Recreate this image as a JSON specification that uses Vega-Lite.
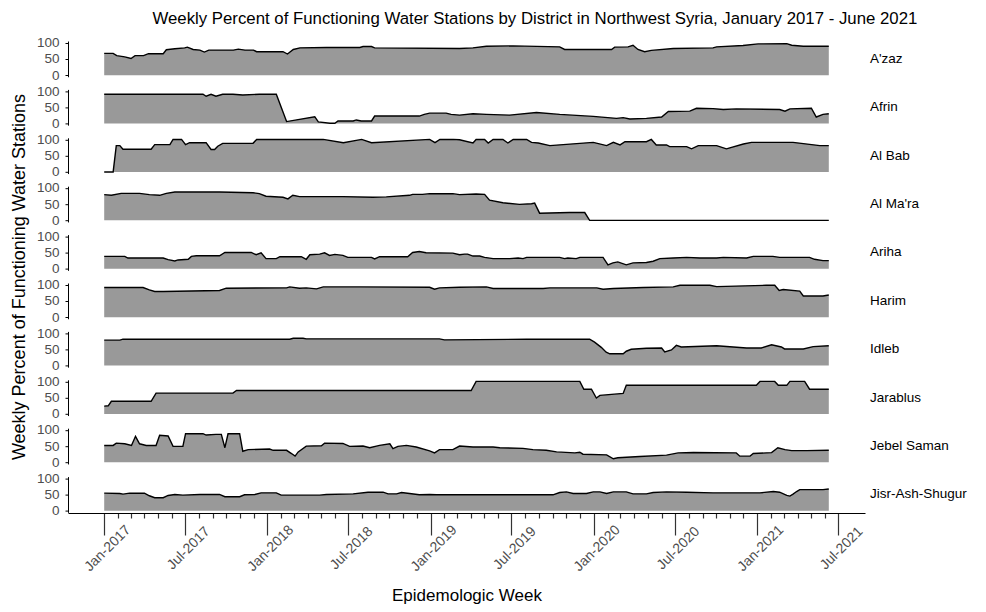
{
"$schema": "https://vega.github.io/schema/vega-lite/v6.json",
"background": "white",
"padding": {"left": 10, "top": 10, "right": 5, "bottom": 5},
"title": {"text": "Weekly Percent of Functioning Water Stations by District in Northwest Syria, January 2017 - June 2021", "fontSize": 16.8, "fontWeight": "normal", "font": "Liberation Sans", "color": "black", "anchor": "middle", "offset": 8, "dx": 46},
"datasets": {"d": [
{"district":"A'zaz","week":"2017-01-01","pct":67},{"district":"A'zaz","week":"2017-01-21","pct":67},{"district":"A'zaz","week":"2017-01-29","pct":60},{"district":"A'zaz","week":"2017-02-16","pct":56},{"district":"A'zaz","week":"2017-03-02","pct":51},{"district":"A'zaz","week":"2017-03-11","pct":60},{"district":"A'zaz","week":"2017-03-30","pct":60},{"district":"A'zaz","week":"2017-04-10","pct":66},{"district":"A'zaz","week":"2017-05-13","pct":66},{"district":"A'zaz","week":"2017-05-20","pct":78},{"district":"A'zaz","week":"2017-06-08","pct":81},{"district":"A'zaz","week":"2017-06-30","pct":84},{"district":"A'zaz","week":"2017-07-06","pct":86},{"district":"A'zaz","week":"2017-07-19","pct":79},{"district":"A'zaz","week":"2017-08-03","pct":77},{"district":"A'zaz","week":"2017-08-13","pct":71},{"district":"A'zaz","week":"2017-08-23","pct":77},{"district":"A'zaz","week":"2017-10-17","pct":77},{"district":"A'zaz","week":"2017-10-28","pct":80},{"district":"A'zaz","week":"2017-11-12","pct":77},{"district":"A'zaz","week":"2017-12-01","pct":77},{"district":"A'zaz","week":"2017-12-08","pct":72},{"district":"A'zaz","week":"2018-02-05","pct":72},{"district":"A'zaz","week":"2018-02-15","pct":65},{"district":"A'zaz","week":"2018-02-28","pct":79},{"district":"A'zaz","week":"2018-03-15","pct":84},{"district":"A'zaz","week":"2018-05-13","pct":85},{"district":"A'zaz","week":"2018-07-27","pct":85},{"district":"A'zaz","week":"2018-08-03","pct":88},{"district":"A'zaz","week":"2018-08-22","pct":88},{"district":"A'zaz","week":"2018-08-29","pct":84},{"district":"A'zaz","week":"2019-03-07","pct":82},{"district":"A'zaz","week":"2019-04-06","pct":84},{"district":"A'zaz","week":"2019-05-06","pct":89},{"district":"A'zaz","week":"2019-07-05","pct":90},{"district":"A'zaz","week":"2019-10-17","pct":87},{"district":"A'zaz","week":"2019-10-28","pct":79},{"district":"A'zaz","week":"2020-02-10","pct":79},{"district":"A'zaz","week":"2020-02-17","pct":86},{"district":"A'zaz","week":"2020-03-18","pct":87},{"district":"A'zaz","week":"2020-03-29","pct":92},{"district":"A'zaz","week":"2020-04-09","pct":79},{"district":"A'zaz","week":"2020-04-24","pct":72},{"district":"A'zaz","week":"2020-05-09","pct":76},{"district":"A'zaz","week":"2020-06-27","pct":82},{"district":"A'zaz","week":"2020-09-24","pct":84},{"district":"A'zaz","week":"2020-10-02","pct":87},{"district":"A'zaz","week":"2020-11-30","pct":91},{"district":"A'zaz","week":"2021-01-03","pct":96},{"district":"A'zaz","week":"2021-03-08","pct":97},{"district":"A'zaz","week":"2021-03-19","pct":92},{"district":"A'zaz","week":"2021-04-14","pct":89},{"district":"A'zaz","week":"2021-06-10","pct":89},
{"district":"Afrin","week":"2017-01-01","pct":90},{"district":"Afrin","week":"2017-08-10","pct":90},{"district":"Afrin","week":"2017-08-17","pct":84},{"district":"Afrin","week":"2017-08-28","pct":90},{"district":"Afrin","week":"2017-09-08","pct":84},{"district":"Afrin","week":"2017-09-23","pct":90},{"district":"Afrin","week":"2017-10-16","pct":90},{"district":"Afrin","week":"2017-11-07","pct":88},{"district":"Afrin","week":"2017-12-14","pct":90},{"district":"Afrin","week":"2018-01-21","pct":90},{"district":"Afrin","week":"2018-02-13","pct":6},{"district":"Afrin","week":"2018-04-17","pct":21},{"district":"Afrin","week":"2018-04-25","pct":5},{"district":"Afrin","week":"2018-05-21","pct":1},{"district":"Afrin","week":"2018-06-01","pct":1},{"district":"Afrin","week":"2018-06-08","pct":8},{"district":"Afrin","week":"2018-07-12","pct":8},{"district":"Afrin","week":"2018-07-19","pct":11},{"district":"Afrin","week":"2018-07-30","pct":8},{"district":"Afrin","week":"2018-08-22","pct":8},{"district":"Afrin","week":"2018-08-29","pct":23},{"district":"Afrin","week":"2018-12-07","pct":23},{"district":"Afrin","week":"2018-12-18","pct":28},{"district":"Afrin","week":"2018-12-30","pct":32},{"district":"Afrin","week":"2019-02-05","pct":32},{"district":"Afrin","week":"2019-02-16","pct":28},{"district":"Afrin","week":"2019-03-07","pct":26},{"district":"Afrin","week":"2019-04-06","pct":30},{"district":"Afrin","week":"2019-05-06","pct":28},{"district":"Afrin","week":"2019-06-27","pct":26},{"district":"Afrin","week":"2019-08-26","pct":34},{"district":"Afrin","week":"2019-10-17","pct":28},{"district":"Afrin","week":"2019-12-31","pct":22},{"district":"Afrin","week":"2020-02-21","pct":16},{"district":"Afrin","week":"2020-03-07","pct":18},{"district":"Afrin","week":"2020-03-22","pct":14},{"district":"Afrin","week":"2020-04-28","pct":16},{"district":"Afrin","week":"2020-06-01","pct":20},{"district":"Afrin","week":"2020-06-16","pct":37},{"district":"Afrin","week":"2020-08-03","pct":38},{"district":"Afrin","week":"2020-08-18","pct":47},{"district":"Afrin","week":"2020-09-24","pct":46},{"district":"Afrin","week":"2020-10-17","pct":43},{"district":"Afrin","week":"2020-11-15","pct":45},{"district":"Afrin","week":"2021-02-20","pct":43},{"district":"Afrin","week":"2021-03-04","pct":38},{"district":"Afrin","week":"2021-03-15","pct":45},{"district":"Afrin","week":"2021-05-02","pct":47},{"district":"Afrin","week":"2021-05-13","pct":20},{"district":"Afrin","week":"2021-05-28","pct":28},{"district":"Afrin","week":"2021-06-10","pct":30},
{"district":"Al Bab","week":"2017-01-01","pct":0},{"district":"Al Bab","week":"2017-01-21","pct":0},{"district":"Al Bab","week":"2017-01-28","pct":81},{"district":"Al Bab","week":"2017-02-05","pct":81},{"district":"Al Bab","week":"2017-02-12","pct":70},{"district":"Al Bab","week":"2017-04-16","pct":70},{"district":"Al Bab","week":"2017-04-24","pct":84},{"district":"Al Bab","week":"2017-05-28","pct":84},{"district":"Al Bab","week":"2017-06-04","pct":100},{"district":"Al Bab","week":"2017-06-23","pct":100},{"district":"Al Bab","week":"2017-07-02","pct":84},{"district":"Al Bab","week":"2017-07-11","pct":90},{"district":"Al Bab","week":"2017-08-17","pct":90},{"district":"Al Bab","week":"2017-08-28","pct":69},{"district":"Al Bab","week":"2017-09-05","pct":69},{"district":"Al Bab","week":"2017-09-12","pct":79},{"district":"Al Bab","week":"2017-09-23","pct":88},{"district":"Al Bab","week":"2017-11-30","pct":88},{"district":"Al Bab","week":"2017-12-08","pct":100},{"district":"Al Bab","week":"2018-05-06","pct":100},{"district":"Al Bab","week":"2018-06-20","pct":90},{"district":"Al Bab","week":"2018-07-31","pct":100},{"district":"Al Bab","week":"2018-08-22","pct":90},{"district":"Al Bab","week":"2018-12-30","pct":100},{"district":"Al Bab","week":"2019-01-11","pct":90},{"district":"Al Bab","week":"2019-01-22","pct":100},{"district":"Al Bab","week":"2019-02-21","pct":100},{"district":"Al Bab","week":"2019-03-07","pct":99},{"district":"Al Bab","week":"2019-04-06","pct":89},{"district":"Al Bab","week":"2019-04-13","pct":100},{"district":"Al Bab","week":"2019-05-02","pct":100},{"district":"Al Bab","week":"2019-05-10","pct":89},{"district":"Al Bab","week":"2019-05-21","pct":100},{"district":"Al Bab","week":"2019-06-12","pct":100},{"district":"Al Bab","week":"2019-06-23","pct":89},{"district":"Al Bab","week":"2019-07-05","pct":100},{"district":"Al Bab","week":"2019-08-04","pct":100},{"district":"Al Bab","week":"2019-08-15","pct":91},{"district":"Al Bab","week":"2019-08-30","pct":89},{"district":"Al Bab","week":"2019-09-25","pct":81},{"district":"Al Bab","week":"2019-12-31","pct":91},{"district":"Al Bab","week":"2020-01-30","pct":81},{"district":"Al Bab","week":"2020-02-14","pct":91},{"district":"Al Bab","week":"2020-02-29","pct":83},{"district":"Al Bab","week":"2020-03-11","pct":93},{"district":"Al Bab","week":"2020-04-28","pct":93},{"district":"Al Bab","week":"2020-05-09","pct":100},{"district":"Al Bab","week":"2020-05-20","pct":83},{"district":"Al Bab","week":"2020-06-12","pct":83},{"district":"Al Bab","week":"2020-06-19","pct":78},{"district":"Al Bab","week":"2020-07-27","pct":78},{"district":"Al Bab","week":"2020-08-07","pct":71},{"district":"Al Bab","week":"2020-08-22","pct":81},{"district":"Al Bab","week":"2020-10-02","pct":81},{"district":"Al Bab","week":"2020-10-24","pct":71},{"district":"Al Bab","week":"2020-12-01","pct":86},{"district":"Al Bab","week":"2020-12-19","pct":91},{"district":"Al Bab","week":"2021-03-22","pct":91},{"district":"Al Bab","week":"2021-05-21","pct":81},{"district":"Al Bab","week":"2021-06-10","pct":81},
{"district":"Al Ma'ra","week":"2017-01-01","pct":79},{"district":"Al Ma'ra","week":"2017-01-17","pct":77},{"district":"Al Ma'ra","week":"2017-02-08","pct":83},{"district":"Al Ma'ra","week":"2017-03-21","pct":83},{"district":"Al Ma'ra","week":"2017-04-12","pct":79},{"district":"Al Ma'ra","week":"2017-05-05","pct":77},{"district":"Al Ma'ra","week":"2017-05-20","pct":83},{"district":"Al Ma'ra","week":"2017-06-08","pct":87},{"district":"Al Ma'ra","week":"2017-09-16","pct":87},{"district":"Al Ma'ra","week":"2017-11-30","pct":85},{"district":"Al Ma'ra","week":"2017-12-14","pct":82},{"district":"Al Ma'ra","week":"2017-12-29","pct":74},{"district":"Al Ma'ra","week":"2018-02-05","pct":71},{"district":"Al Ma'ra","week":"2018-02-16","pct":66},{"district":"Al Ma'ra","week":"2018-02-27","pct":77},{"district":"Al Ma'ra","week":"2018-03-14","pct":73},{"district":"Al Ma'ra","week":"2018-06-19","pct":73},{"district":"Al Ma'ra","week":"2018-08-25","pct":71},{"district":"Al Ma'ra","week":"2018-09-24","pct":72},{"district":"Al Ma'ra","week":"2018-11-15","pct":77},{"district":"Al Ma'ra","week":"2018-11-22","pct":80},{"district":"Al Ma'ra","week":"2018-12-14","pct":80},{"district":"Al Ma'ra","week":"2018-12-30","pct":82},{"district":"Al Ma'ra","week":"2019-02-20","pct":82},{"district":"Al Ma'ra","week":"2019-03-07","pct":79},{"district":"Al Ma'ra","week":"2019-04-13","pct":81},{"district":"Al Ma'ra","week":"2019-05-02","pct":80},{"district":"Al Ma'ra","week":"2019-05-13","pct":62},{"district":"Al Ma'ra","week":"2019-06-12","pct":54},{"district":"Al Ma'ra","week":"2019-07-19","pct":49},{"district":"Al Ma'ra","week":"2019-08-15","pct":51},{"district":"Al Ma'ra","week":"2019-08-22","pct":53},{"district":"Al Ma'ra","week":"2019-09-02","pct":22},{"district":"Al Ma'ra","week":"2019-11-08","pct":24},{"district":"Al Ma'ra","week":"2019-12-12","pct":24},{"district":"Al Ma'ra","week":"2019-12-23","pct":0},{"district":"Al Ma'ra","week":"2021-06-10","pct":0},
{"district":"Ariha","week":"2017-01-01","pct":38},{"district":"Ariha","week":"2017-02-16","pct":38},{"district":"Ariha","week":"2017-02-23","pct":33},{"district":"Ariha","week":"2017-05-13","pct":33},{"district":"Ariha","week":"2017-05-24","pct":28},{"district":"Ariha","week":"2017-06-08","pct":24},{"district":"Ariha","week":"2017-06-15","pct":27},{"district":"Ariha","week":"2017-07-08","pct":29},{"district":"Ariha","week":"2017-07-15","pct":38},{"district":"Ariha","week":"2017-07-26","pct":40},{"district":"Ariha","week":"2017-09-16","pct":40},{"district":"Ariha","week":"2017-09-28","pct":50},{"district":"Ariha","week":"2017-11-26","pct":50},{"district":"Ariha","week":"2017-12-07","pct":43},{"district":"Ariha","week":"2017-12-18","pct":49},{"district":"Ariha","week":"2017-12-29","pct":31},{"district":"Ariha","week":"2018-01-21","pct":31},{"district":"Ariha","week":"2018-01-29","pct":37},{"district":"Ariha","week":"2018-03-18","pct":37},{"district":"Ariha","week":"2018-03-29","pct":29},{"district":"Ariha","week":"2018-04-06","pct":43},{"district":"Ariha","week":"2018-04-28","pct":45},{"district":"Ariha","week":"2018-05-09","pct":49},{"district":"Ariha","week":"2018-05-20","pct":41},{"district":"Ariha","week":"2018-06-01","pct":44},{"district":"Ariha","week":"2018-06-19","pct":41},{"district":"Ariha","week":"2018-06-30","pct":35},{"district":"Ariha","week":"2018-08-22","pct":35},{"district":"Ariha","week":"2018-08-29","pct":30},{"district":"Ariha","week":"2018-09-09","pct":37},{"district":"Ariha","week":"2018-11-11","pct":37},{"district":"Ariha","week":"2018-11-22","pct":50},{"district":"Ariha","week":"2018-12-07","pct":53},{"district":"Ariha","week":"2018-12-22","pct":49},{"district":"Ariha","week":"2019-02-20","pct":48},{"district":"Ariha","week":"2019-03-07","pct":43},{"district":"Ariha","week":"2019-03-18","pct":45},{"district":"Ariha","week":"2019-03-25","pct":45},{"district":"Ariha","week":"2019-04-06","pct":39},{"district":"Ariha","week":"2019-04-21","pct":39},{"district":"Ariha","week":"2019-05-02","pct":35},{"district":"Ariha","week":"2019-05-21","pct":31},{"district":"Ariha","week":"2019-06-27","pct":31},{"district":"Ariha","week":"2019-07-16","pct":33},{"district":"Ariha","week":"2019-07-27","pct":31},{"district":"Ariha","week":"2019-08-04","pct":35},{"district":"Ariha","week":"2019-10-17","pct":35},{"district":"Ariha","week":"2019-10-28","pct":31},{"district":"Ariha","week":"2019-11-04","pct":33},{"district":"Ariha","week":"2019-11-23","pct":31},{"district":"Ariha","week":"2019-12-01","pct":35},{"district":"Ariha","week":"2020-01-22","pct":35},{"district":"Ariha","week":"2020-02-02","pct":12},{"district":"Ariha","week":"2020-02-13","pct":18},{"district":"Ariha","week":"2020-02-24","pct":21},{"district":"Ariha","week":"2020-03-14","pct":12},{"district":"Ariha","week":"2020-03-29","pct":18},{"district":"Ariha","week":"2020-04-28","pct":19},{"district":"Ariha","week":"2020-05-13","pct":23},{"district":"Ariha","week":"2020-05-28","pct":31},{"district":"Ariha","week":"2020-06-27","pct":33},{"district":"Ariha","week":"2020-07-27","pct":35},{"district":"Ariha","week":"2020-08-26","pct":33},{"district":"Ariha","week":"2020-10-02","pct":33},{"district":"Ariha","week":"2020-10-17","pct":35},{"district":"Ariha","week":"2020-12-08","pct":33},{"district":"Ariha","week":"2020-12-23","pct":38},{"district":"Ariha","week":"2021-02-05","pct":38},{"district":"Ariha","week":"2021-02-20","pct":35},{"district":"Ariha","week":"2021-04-28","pct":35},{"district":"Ariha","week":"2021-05-09","pct":29},{"district":"Ariha","week":"2021-05-28","pct":25},{"district":"Ariha","week":"2021-06-10","pct":25},
{"district":"Harim","week":"2017-01-01","pct":91},{"district":"Harim","week":"2017-03-29","pct":91},{"district":"Harim","week":"2017-04-12","pct":84},{"district":"Harim","week":"2017-04-24","pct":79},{"district":"Harim","week":"2017-05-13","pct":79},{"district":"Harim","week":"2017-09-16","pct":82},{"district":"Harim","week":"2017-10-01","pct":89},{"district":"Harim","week":"2018-02-13","pct":90},{"district":"Harim","week":"2018-02-20","pct":93},{"district":"Harim","week":"2018-03-14","pct":89},{"district":"Harim","week":"2018-03-29","pct":90},{"district":"Harim","week":"2018-04-21","pct":87},{"district":"Harim","week":"2018-05-06","pct":93},{"district":"Harim","week":"2018-07-27","pct":93},{"district":"Harim","week":"2018-12-30","pct":92},{"district":"Harim","week":"2019-01-10","pct":86},{"district":"Harim","week":"2019-01-21","pct":90},{"district":"Harim","week":"2019-03-07","pct":92},{"district":"Harim","week":"2019-05-06","pct":93},{"district":"Harim","week":"2019-05-21","pct":88},{"district":"Harim","week":"2019-09-10","pct":88},{"district":"Harim","week":"2019-09-25","pct":90},{"district":"Harim","week":"2020-01-08","pct":90},{"district":"Harim","week":"2020-01-22","pct":86},{"district":"Harim","week":"2020-02-14","pct":88},{"district":"Harim","week":"2020-04-21","pct":91},{"district":"Harim","week":"2020-06-27","pct":93},{"district":"Harim","week":"2020-07-12","pct":98},{"district":"Harim","week":"2020-09-17","pct":98},{"district":"Harim","week":"2020-10-02","pct":94},{"district":"Harim","week":"2021-01-21","pct":98},{"district":"Harim","week":"2021-02-09","pct":98},{"district":"Harim","week":"2021-02-19","pct":82},{"district":"Harim","week":"2021-02-28","pct":85},{"district":"Harim","week":"2021-04-06","pct":80},{"district":"Harim","week":"2021-04-14","pct":65},{"district":"Harim","week":"2021-05-28","pct":65},{"district":"Harim","week":"2021-06-10","pct":68},
{"district":"Idleb","week":"2017-01-01","pct":78},{"district":"Idleb","week":"2017-02-05","pct":78},{"district":"Idleb","week":"2017-02-12","pct":81},{"district":"Idleb","week":"2018-02-20","pct":81},{"district":"Idleb","week":"2018-02-28","pct":84},{"district":"Idleb","week":"2018-03-22","pct":84},{"district":"Idleb","week":"2018-03-29","pct":82},{"district":"Idleb","week":"2019-01-21","pct":82},{"district":"Idleb","week":"2019-02-01","pct":79},{"district":"Idleb","week":"2019-08-04","pct":81},{"district":"Idleb","week":"2019-12-23","pct":81},{"district":"Idleb","week":"2020-01-03","pct":72},{"district":"Idleb","week":"2020-01-18","pct":56},{"district":"Idleb","week":"2020-01-29","pct":41},{"district":"Idleb","week":"2020-02-06","pct":36},{"district":"Idleb","week":"2020-03-07","pct":36},{"district":"Idleb","week":"2020-03-14","pct":44},{"district":"Idleb","week":"2020-03-25","pct":50},{"district":"Idleb","week":"2020-04-28","pct":53},{"district":"Idleb","week":"2020-06-01","pct":54},{"district":"Idleb","week":"2020-06-08","pct":42},{"district":"Idleb","week":"2020-06-23","pct":48},{"district":"Idleb","week":"2020-07-04","pct":62},{"district":"Idleb","week":"2020-07-15","pct":57},{"district":"Idleb","week":"2020-10-02","pct":61},{"district":"Idleb","week":"2020-12-08","pct":54},{"district":"Idleb","week":"2021-01-10","pct":54},{"district":"Idleb","week":"2021-02-02","pct":64},{"district":"Idleb","week":"2021-02-24","pct":57},{"district":"Idleb","week":"2021-03-03","pct":51},{"district":"Idleb","week":"2021-04-14","pct":51},{"district":"Idleb","week":"2021-05-06","pct":58},{"district":"Idleb","week":"2021-06-10","pct":61},
{"district":"Jarablus","week":"2017-01-01","pct":24},{"district":"Jarablus","week":"2017-01-10","pct":25},{"district":"Jarablus","week":"2017-01-17","pct":39},{"district":"Jarablus","week":"2017-04-16","pct":39},{"district":"Jarablus","week":"2017-04-27","pct":64},{"district":"Jarablus","week":"2017-10-16","pct":64},{"district":"Jarablus","week":"2017-10-24","pct":72},{"district":"Jarablus","week":"2019-04-02","pct":72},{"district":"Jarablus","week":"2019-04-13","pct":100},{"district":"Jarablus","week":"2019-12-01","pct":100},{"district":"Jarablus","week":"2019-12-10","pct":76},{"district":"Jarablus","week":"2019-12-27","pct":76},{"district":"Jarablus","week":"2020-01-07","pct":49},{"district":"Jarablus","week":"2020-01-15","pct":57},{"district":"Jarablus","week":"2020-03-07","pct":63},{"district":"Jarablus","week":"2020-03-14","pct":88},{"district":"Jarablus","week":"2020-12-30","pct":88},{"district":"Jarablus","week":"2021-01-07","pct":100},{"district":"Jarablus","week":"2021-02-09","pct":100},{"district":"Jarablus","week":"2021-02-17","pct":88},{"district":"Jarablus","week":"2021-03-08","pct":88},{"district":"Jarablus","week":"2021-03-15","pct":100},{"district":"Jarablus","week":"2021-04-17","pct":100},{"district":"Jarablus","week":"2021-04-28","pct":76},{"district":"Jarablus","week":"2021-06-10","pct":76},
{"district":"Jebel Saman","week":"2017-01-01","pct":52},{"district":"Jebel Saman","week":"2017-01-21","pct":52},{"district":"Jebel Saman","week":"2017-01-28","pct":59},{"district":"Jebel Saman","week":"2017-02-16","pct":57},{"district":"Jebel Saman","week":"2017-03-03","pct":52},{"district":"Jebel Saman","week":"2017-03-12","pct":80},{"district":"Jebel Saman","week":"2017-03-21","pct":57},{"district":"Jebel Saman","week":"2017-04-05","pct":52},{"district":"Jebel Saman","week":"2017-04-27","pct":52},{"district":"Jebel Saman","week":"2017-05-05","pct":83},{"district":"Jebel Saman","week":"2017-05-24","pct":81},{"district":"Jebel Saman","week":"2017-06-04","pct":49},{"district":"Jebel Saman","week":"2017-06-26","pct":49},{"district":"Jebel Saman","week":"2017-07-02","pct":88},{"district":"Jebel Saman","week":"2017-08-10","pct":88},{"district":"Jebel Saman","week":"2017-08-17","pct":84},{"district":"Jebel Saman","week":"2017-09-08","pct":86},{"district":"Jebel Saman","week":"2017-09-20","pct":86},{"district":"Jebel Saman","week":"2017-09-28","pct":45},{"district":"Jebel Saman","week":"2017-10-05","pct":88},{"district":"Jebel Saman","week":"2017-10-31","pct":88},{"district":"Jebel Saman","week":"2017-11-07","pct":34},{"district":"Jebel Saman","week":"2017-11-19","pct":39},{"district":"Jebel Saman","week":"2018-01-06","pct":41},{"district":"Jebel Saman","week":"2018-01-14","pct":37},{"district":"Jebel Saman","week":"2018-02-13","pct":37},{"district":"Jebel Saman","week":"2018-02-24","pct":27},{"district":"Jebel Saman","week":"2018-03-04","pct":19},{"district":"Jebel Saman","week":"2018-03-11","pct":32},{"district":"Jebel Saman","week":"2018-03-29","pct":50},{"district":"Jebel Saman","week":"2018-05-02","pct":51},{"district":"Jebel Saman","week":"2018-05-09","pct":59},{"district":"Jebel Saman","week":"2018-06-19","pct":58},{"district":"Jebel Saman","week":"2018-07-04","pct":49},{"district":"Jebel Saman","week":"2018-08-03","pct":50},{"district":"Jebel Saman","week":"2018-08-18","pct":45},{"district":"Jebel Saman","week":"2018-09-09","pct":52},{"district":"Jebel Saman","week":"2018-10-02","pct":57},{"district":"Jebel Saman","week":"2018-10-09","pct":42},{"district":"Jebel Saman","week":"2018-10-20","pct":49},{"district":"Jebel Saman","week":"2018-11-08","pct":52},{"district":"Jebel Saman","week":"2018-11-30","pct":47},{"district":"Jebel Saman","week":"2018-12-30","pct":35},{"district":"Jebel Saman","week":"2019-01-10","pct":29},{"district":"Jebel Saman","week":"2019-01-21","pct":39},{"district":"Jebel Saman","week":"2019-02-20","pct":39},{"district":"Jebel Saman","week":"2019-03-07","pct":50},{"district":"Jebel Saman","week":"2019-04-06","pct":47},{"district":"Jebel Saman","week":"2019-05-21","pct":47},{"district":"Jebel Saman","week":"2019-06-05","pct":45},{"district":"Jebel Saman","week":"2019-07-27","pct":43},{"district":"Jebel Saman","week":"2019-08-18","pct":39},{"district":"Jebel Saman","week":"2019-09-17","pct":37},{"district":"Jebel Saman","week":"2019-10-10","pct":32},{"district":"Jebel Saman","week":"2019-11-20","pct":29},{"district":"Jebel Saman","week":"2019-12-01","pct":31},{"district":"Jebel Saman","week":"2019-12-08","pct":25},{"district":"Jebel Saman","week":"2020-01-30","pct":23},{"district":"Jebel Saman","week":"2020-02-14","pct":11},{"district":"Jebel Saman","week":"2020-02-24","pct":14},{"district":"Jebel Saman","week":"2020-04-13","pct":18},{"district":"Jebel Saman","week":"2020-06-12","pct":22},{"district":"Jebel Saman","week":"2020-07-08","pct":29},{"district":"Jebel Saman","week":"2020-08-11","pct":30},{"district":"Jebel Saman","week":"2020-11-15","pct":29},{"district":"Jebel Saman","week":"2020-11-23","pct":19},{"district":"Jebel Saman","week":"2020-12-16","pct":19},{"district":"Jebel Saman","week":"2020-12-23","pct":27},{"district":"Jebel Saman","week":"2021-02-02","pct":30},{"district":"Jebel Saman","week":"2021-02-16","pct":45},{"district":"Jebel Saman","week":"2021-03-04","pct":39},{"district":"Jebel Saman","week":"2021-03-19","pct":36},{"district":"Jebel Saman","week":"2021-04-21","pct":36},{"district":"Jebel Saman","week":"2021-06-10","pct":37},
{"district":"Jisr-Ash-Shugur","week":"2017-01-01","pct":54},{"district":"Jisr-Ash-Shugur","week":"2017-02-05","pct":53},{"district":"Jisr-Ash-Shugur","week":"2017-02-12","pct":51},{"district":"Jisr-Ash-Shugur","week":"2017-02-27","pct":54},{"district":"Jisr-Ash-Shugur","week":"2017-04-01","pct":54},{"district":"Jisr-Ash-Shugur","week":"2017-04-12","pct":46},{"district":"Jisr-Ash-Shugur","week":"2017-04-24","pct":40},{"district":"Jisr-Ash-Shugur","week":"2017-05-13","pct":40},{"district":"Jisr-Ash-Shugur","week":"2017-05-24","pct":47},{"district":"Jisr-Ash-Shugur","week":"2017-06-08","pct":50},{"district":"Jisr-Ash-Shugur","week":"2017-06-26","pct":48},{"district":"Jisr-Ash-Shugur","week":"2017-08-03","pct":50},{"district":"Jisr-Ash-Shugur","week":"2017-09-16","pct":50},{"district":"Jisr-Ash-Shugur","week":"2017-09-28","pct":43},{"district":"Jisr-Ash-Shugur","week":"2017-10-31","pct":43},{"district":"Jisr-Ash-Shugur","week":"2017-11-11","pct":49},{"district":"Jisr-Ash-Shugur","week":"2017-12-04","pct":50},{"district":"Jisr-Ash-Shugur","week":"2017-12-18","pct":55},{"district":"Jisr-Ash-Shugur","week":"2018-01-21","pct":55},{"district":"Jisr-Ash-Shugur","week":"2018-02-01","pct":48},{"district":"Jisr-Ash-Shugur","week":"2018-04-28","pct":48},{"district":"Jisr-Ash-Shugur","week":"2018-05-13","pct":50},{"district":"Jisr-Ash-Shugur","week":"2018-07-12","pct":52},{"district":"Jisr-Ash-Shugur","week":"2018-08-14","pct":57},{"district":"Jisr-Ash-Shugur","week":"2018-09-17","pct":57},{"district":"Jisr-Ash-Shugur","week":"2018-09-28","pct":52},{"district":"Jisr-Ash-Shugur","week":"2018-10-17","pct":52},{"district":"Jisr-Ash-Shugur","week":"2018-10-28","pct":56},{"district":"Jisr-Ash-Shugur","week":"2018-11-15","pct":53},{"district":"Jisr-Ash-Shugur","week":"2018-12-07","pct":49},{"district":"Jisr-Ash-Shugur","week":"2018-12-30","pct":50},{"district":"Jisr-Ash-Shugur","week":"2019-01-14","pct":49},{"district":"Jisr-Ash-Shugur","week":"2019-03-07","pct":49},{"district":"Jisr-Ash-Shugur","week":"2019-10-02","pct":49},{"district":"Jisr-Ash-Shugur","week":"2019-10-17","pct":56},{"district":"Jisr-Ash-Shugur","week":"2019-11-01","pct":58},{"district":"Jisr-Ash-Shugur","week":"2019-11-16","pct":53},{"district":"Jisr-Ash-Shugur","week":"2019-12-16","pct":53},{"district":"Jisr-Ash-Shugur","week":"2019-12-31","pct":58},{"district":"Jisr-Ash-Shugur","week":"2020-01-15","pct":58},{"district":"Jisr-Ash-Shugur","week":"2020-01-30","pct":53},{"district":"Jisr-Ash-Shugur","week":"2020-02-14","pct":58},{"district":"Jisr-Ash-Shugur","week":"2020-03-14","pct":58},{"district":"Jisr-Ash-Shugur","week":"2020-03-29","pct":52},{"district":"Jisr-Ash-Shugur","week":"2020-04-28","pct":52},{"district":"Jisr-Ash-Shugur","week":"2020-05-13","pct":56},{"district":"Jisr-Ash-Shugur","week":"2020-06-12","pct":58},{"district":"Jisr-Ash-Shugur","week":"2020-07-27","pct":57},{"district":"Jisr-Ash-Shugur","week":"2020-09-24","pct":55},{"district":"Jisr-Ash-Shugur","week":"2021-01-07","pct":55},{"district":"Jisr-Ash-Shugur","week":"2021-02-06","pct":59},{"district":"Jisr-Ash-Shugur","week":"2021-02-20","pct":57},{"district":"Jisr-Ash-Shugur","week":"2021-03-08","pct":47},{"district":"Jisr-Ash-Shugur","week":"2021-03-15","pct":45},{"district":"Jisr-Ash-Shugur","week":"2021-03-22","pct":51},{"district":"Jisr-Ash-Shugur","week":"2021-03-30","pct":59},{"district":"Jisr-Ash-Shugur","week":"2021-04-06","pct":65},{"district":"Jisr-Ash-Shugur","week":"2021-05-28","pct":65},{"district":"Jisr-Ash-Shugur","week":"2021-06-10","pct":67}
]},
"data": {"name": "d"},
"facet": {"row": {"field": "district", "type": "nominal",
  "sort": ["A'zaz","Afrin","Al Bab","Al Ma'ra","Ariha","Harim","Idleb","Jarablus","Jebel Saman","Jisr-Ash-Shugur"],
  "title": "Weekly Percent of Functioning Water Stations",
  "header": {"labelOrient": "right", "labelAngle": 0, "labelFontSize": 13.5, "labelFont": "Liberation Sans", "labelColor": "black", "labelPadding": 5,
             "titleOrient": "left", "titleAngle": -90, "titleFontSize": 18, "titleFontWeight": "normal", "titleFont": "Liberation Sans", "titleColor": "black", "titlePadding": -21}}},
"spacing": {"row": 9.4},
"spec": {
  "width": 797, "height": 35.75,
  "mark": {"type": "area", "color": "#999999", "opacity": 1, "line": {"color": "black", "strokeWidth": 1.4}},
  "encoding": {
    "x": {"field": "week", "type": "temporal",
      "scale": {"type": "utc", "domain": [{"year": 2016, "month": 10, "date": 12, "utc": true}, {"year": 2021, "month": 8, "date": 30, "utc": true}]},
      "axis": {"title": "Epidemologic Week", "titleFontSize": 17, "titleFontWeight": "normal", "titleFont": "Liberation Sans", "titleColor": "black", "titlePadding": 14,
        "values": [
          {"year":2017,"month":1,"date":1,"utc":true},{"year":2017,"month":2,"date":1,"utc":true},{"year":2017,"month":3,"date":1,"utc":true},{"year":2017,"month":4,"date":1,"utc":true},{"year":2017,"month":5,"date":1,"utc":true},{"year":2017,"month":6,"date":1,"utc":true},{"year":2017,"month":7,"date":1,"utc":true},{"year":2017,"month":8,"date":1,"utc":true},{"year":2017,"month":9,"date":1,"utc":true},{"year":2017,"month":10,"date":1,"utc":true},{"year":2017,"month":11,"date":1,"utc":true},{"year":2017,"month":12,"date":1,"utc":true},
          {"year":2018,"month":1,"date":1,"utc":true},{"year":2018,"month":2,"date":1,"utc":true},{"year":2018,"month":3,"date":1,"utc":true},{"year":2018,"month":4,"date":1,"utc":true},{"year":2018,"month":5,"date":1,"utc":true},{"year":2018,"month":6,"date":1,"utc":true},{"year":2018,"month":7,"date":1,"utc":true},{"year":2018,"month":8,"date":1,"utc":true},{"year":2018,"month":9,"date":1,"utc":true},{"year":2018,"month":10,"date":1,"utc":true},{"year":2018,"month":11,"date":1,"utc":true},{"year":2018,"month":12,"date":1,"utc":true},
          {"year":2019,"month":1,"date":1,"utc":true},{"year":2019,"month":2,"date":1,"utc":true},{"year":2019,"month":3,"date":1,"utc":true},{"year":2019,"month":4,"date":1,"utc":true},{"year":2019,"month":5,"date":1,"utc":true},{"year":2019,"month":6,"date":1,"utc":true},{"year":2019,"month":7,"date":1,"utc":true},{"year":2019,"month":8,"date":1,"utc":true},{"year":2019,"month":9,"date":1,"utc":true},{"year":2019,"month":10,"date":1,"utc":true},{"year":2019,"month":11,"date":1,"utc":true},{"year":2019,"month":12,"date":1,"utc":true},
          {"year":2020,"month":1,"date":1,"utc":true},{"year":2020,"month":2,"date":1,"utc":true},{"year":2020,"month":3,"date":1,"utc":true},{"year":2020,"month":4,"date":1,"utc":true},{"year":2020,"month":5,"date":1,"utc":true},{"year":2020,"month":6,"date":1,"utc":true},{"year":2020,"month":7,"date":1,"utc":true},{"year":2020,"month":8,"date":1,"utc":true},{"year":2020,"month":9,"date":1,"utc":true},{"year":2020,"month":10,"date":1,"utc":true},{"year":2020,"month":11,"date":1,"utc":true},{"year":2020,"month":12,"date":1,"utc":true},
          {"year":2021,"month":1,"date":1,"utc":true},{"year":2021,"month":2,"date":1,"utc":true},{"year":2021,"month":3,"date":1,"utc":true},{"year":2021,"month":4,"date":1,"utc":true},{"year":2021,"month":5,"date":1,"utc":true},{"year":2021,"month":6,"date":1,"utc":true},{"year":2021,"month":7,"date":1,"utc":true}
        ],
        "labelExpr": "utcmonth(datum.value) % 6 == 0 ? utcFormat(datum.value, '%b-%Y') : ''",
        "tickSize": {"condition": {"test": "utcmonth(datum.value) % 6 == 0", "value": 22}, "value": 5},
        "labelAngle": -45, "labelAlign": "center", "labelBaseline": "middle", "labelPadding": 13, "labelOffset": 3,
        "labelFontSize": 14, "labelFont": "Liberation Sans", "labelColor": "#4d4d4d",
        "labelOverlap": false, "labelBound": false, "labelFlush": false,
        "domainColor": "black", "tickColor": "#333333", "tickWidth": 1.2, "grid": false}},
    "y": {"field": "pct", "type": "quantitative",
      "scale": {"domain": [-5, 105], "nice": false, "zero": false},
      "axis": {"title": null, "values": [0, 50, 100], "tickSize": 3, "labelPadding": 6, "labelFontSize": 13.5, "labelFont": "Liberation Sans", "labelColor": "#4d4d4d", "domainColor": "black", "tickColor": "black", "grid": false}},
    "y2": {"datum": 0}
  }
},
"config": {"view": {"stroke": null}, "axis": {"grid": false}, "font": "Liberation Sans"}
}
